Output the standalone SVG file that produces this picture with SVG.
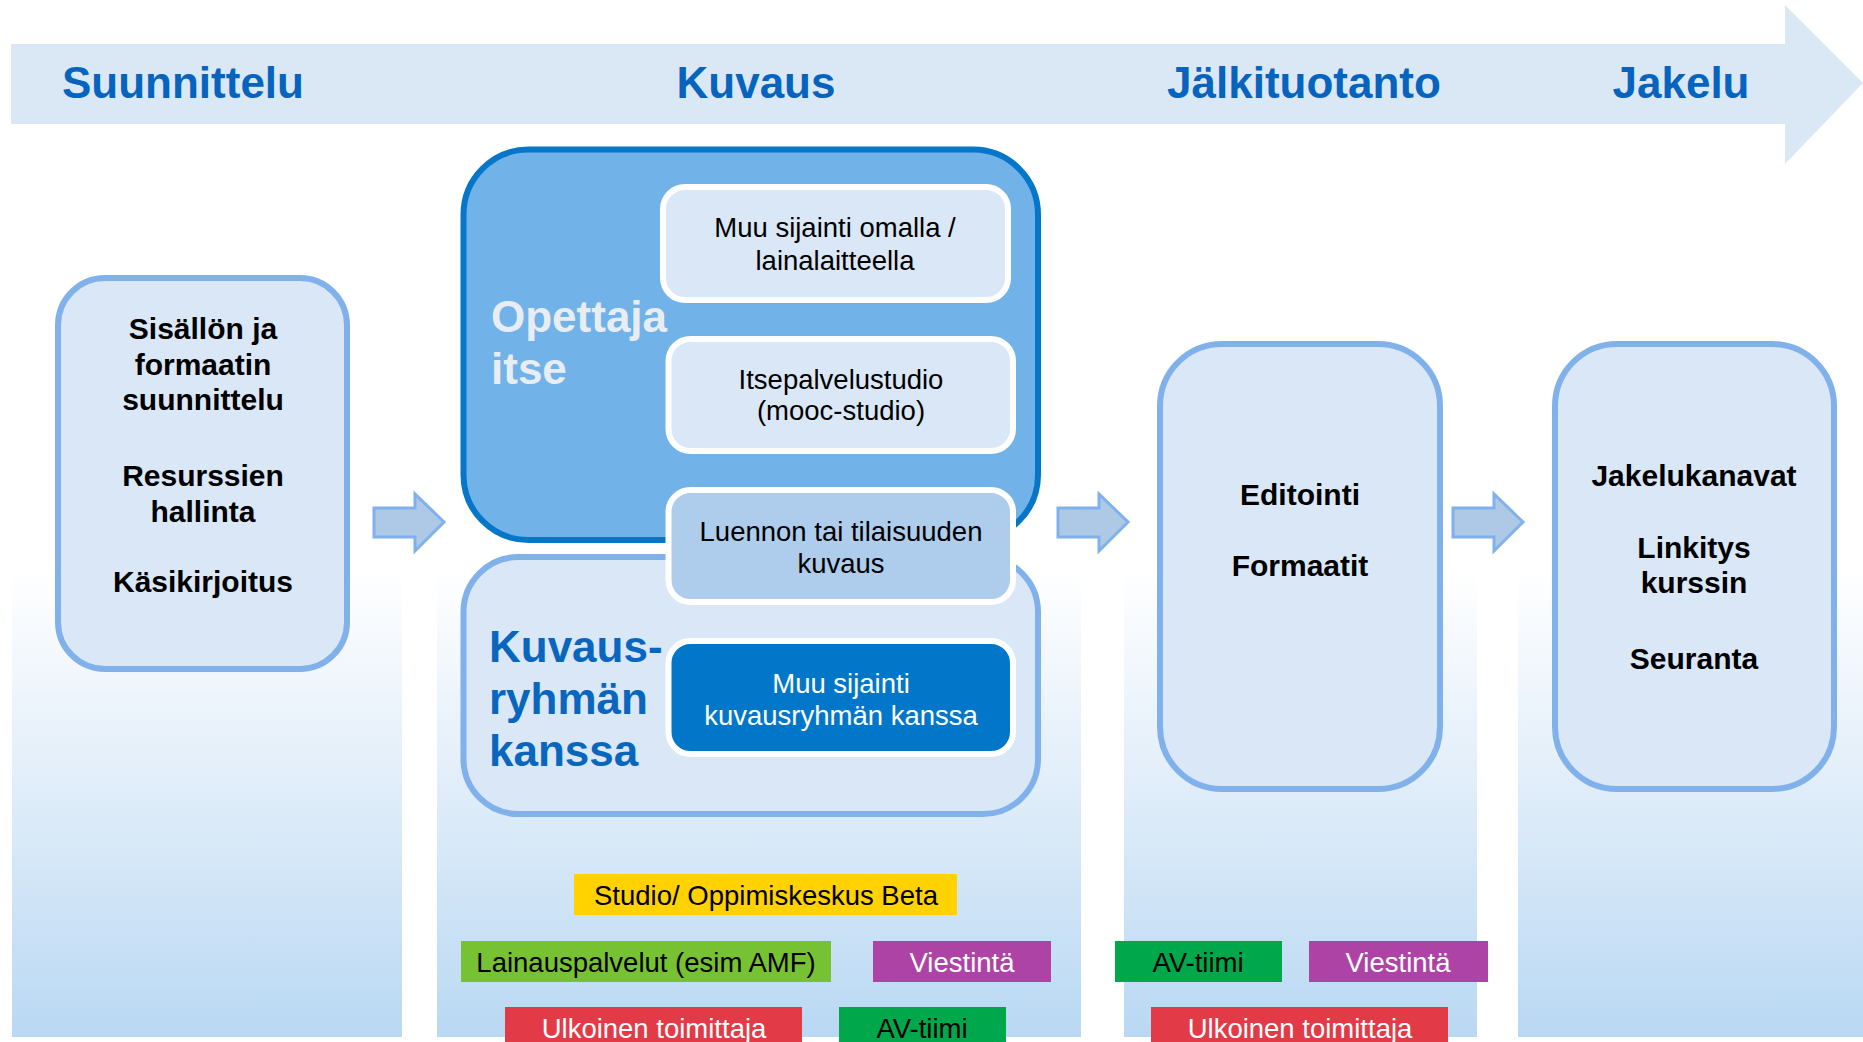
<svg xmlns="http://www.w3.org/2000/svg" width="1863" height="1042" viewBox="0 0 1863 1042">
  <style>
    .col { fill: url(#colGrad); }
    .head { font-family: "Liberation Sans", Arial, sans-serif; font-weight: bold; font-size: 44px; fill: #0664BF; text-anchor: middle; }
    .lbox { fill: #D9E7F6; stroke: #80B1EB; stroke-width: 6; }
    .btxt { font-family: "Liberation Sans", Arial, sans-serif; font-weight: bold; font-size: 30px; fill: #000; text-anchor: middle; }
    .ntxt { font-family: "Liberation Sans", Arial, sans-serif; font-size: 27.5px; fill: #000; text-anchor: middle; }
    .wtxt { fill: #FFFFFF; }
    .inner { stroke: #FFFFFF; stroke-width: 6; }
    .big { font-family: "Liberation Sans", Arial, sans-serif; font-weight: bold; font-size: 44px; }
    .conn { fill: #AEC9E6; stroke: #80B1EB; stroke-width: 3; stroke-linejoin: miter; }
  </style>
  <defs>
    <linearGradient id="colGrad" gradientUnits="userSpaceOnUse" x1="0" y1="570" x2="0" y2="1037">
      <stop offset="0" stop-color="#FFFFFF"/>
      <stop offset="0.5" stop-color="#DEECF9"/>
      <stop offset="1" stop-color="#B9D8F3"/>
    </linearGradient>
  </defs>
  <rect x="0" y="0" width="1863" height="1042" fill="#FFFFFF"/>

  <g id="columns">
    <rect class="col" x="12" y="400" width="390" height="637"/>
    <rect class="col" x="437" y="400" width="644" height="637"/>
    <rect class="col" x="1124" y="400" width="353" height="637"/>
    <rect class="col" x="1518" y="400" width="345" height="637"/>
  </g>

  <g id="phase-arrow">
    <polygon points="11,44 1785,44 1785,5 1863,83 1785,164 1785,124 11,124" fill="#DAE8F6"/>
    <text class="head" x="183" y="98">Suunnittelu</text>
    <text class="head" x="756" y="98">Kuvaus</text>
    <text class="head" x="1304" y="98">Jälkituotanto</text>
    <text class="head" x="1681" y="98">Jakelu</text>
  </g>

  <g id="node-suunnittelu">
    <rect class="lbox" x="58" y="278" width="289" height="391" rx="47" ry="47"/>
    <text class="btxt" x="203" y="339">Sisällön ja</text>
    <text class="btxt" x="203" y="375">formaatin</text>
    <text class="btxt" x="203" y="410">suunnittelu</text>
    <text class="btxt" x="203" y="486">Resurssien</text>
    <text class="btxt" x="203" y="522">hallinta</text>
    <text class="btxt" x="203" y="592">Käsikirjoitus</text>
  </g>

  <g id="node-kuvausryhma">
    <rect class="lbox" x="463.5" y="557" width="574.5" height="257" rx="55" ry="55"/>
    <text class="big" x="489" y="662" fill="#0866BF">Kuvaus-</text>
    <text class="big" x="489" y="714" fill="#0866BF">ryhmän</text>
    <text class="big" x="489" y="766" fill="#0866BF">kanssa</text>
  </g>

  <g id="node-opettaja">
    <rect x="463.5" y="149.5" width="574.5" height="390.5" rx="65" ry="65" fill="#71B2E8" stroke="#0677C8" stroke-width="6"/>
    <text class="big" x="491" y="332" fill="#E8EDF4">Opettaja</text>
    <text class="big" x="491" y="384" fill="#E8EDF4">itse</text>
  </g>

  <g id="node-muu-sijainti-omalla">
    <rect class="inner" x="663" y="187" width="345" height="113" rx="22" ry="22" fill="#D9E7F6"/>
    <text class="ntxt" x="835" y="237">Muu sijainti omalla /</text>
    <text class="ntxt" x="835" y="270">lainalaitteella</text>
  </g>

  <g id="node-itsepalvelustudio">
    <rect class="inner" x="668.5" y="339" width="344.5" height="112" rx="22" ry="22" fill="#D9E7F6"/>
    <text class="ntxt" x="841" y="389">Itsepalvelustudio</text>
    <text class="ntxt" x="841" y="420">(mooc-studio)</text>
  </g>

  <g id="node-luennon-kuvaus">
    <rect class="inner" x="668.5" y="490" width="344.5" height="112" rx="22" ry="22" fill="#AECCEB"/>
    <text class="ntxt" x="841" y="541">Luennon tai tilaisuuden</text>
    <text class="ntxt" x="841" y="573">kuvaus</text>
  </g>

  <g id="node-muu-sijainti-kuvausryhma">
    <rect class="inner" x="668.5" y="641" width="344.5" height="113" rx="22" ry="22" fill="#0277C9"/>
    <text class="ntxt wtxt" x="841" y="693">Muu sijainti</text>
    <text class="ntxt wtxt" x="841" y="725">kuvausryhmän kanssa</text>
  </g>

  <g id="node-jalkituotanto">
    <rect class="lbox" x="1160" y="344" width="280" height="445" rx="62" ry="62"/>
    <text class="btxt" x="1300" y="505">Editointi</text>
    <text class="btxt" x="1300" y="576">Formaatit</text>
  </g>

  <g id="node-jakelu">
    <rect class="lbox" x="1555" y="344" width="279" height="445" rx="62" ry="62"/>
    <text class="btxt" x="1694" y="486">Jakelukanavat</text>
    <text class="btxt" x="1694" y="558">Linkitys</text>
    <text class="btxt" x="1694" y="593">kurssin</text>
    <text class="btxt" x="1694" y="669">Seuranta</text>
  </g>

  <g id="connectors">
    <polygon class="conn" points="374,508 415,508 415,494 444,522 415,551 415,537 374,537"/>
    <polygon class="conn" points="1058,508 1099,508 1099,494 1128,522 1099,551 1099,537 1058,537"/>
    <polygon class="conn" points="1453,508 1494,508 1494,494 1523,522 1494,551 1494,537 1453,537"/>
  </g>

  <g id="tag-studio">
    <rect x="574" y="874" width="383" height="41" fill="#FFD200"/>
    <text class="ntxt" x="766" y="905">Studio/ Oppimiskeskus Beta</text>
  </g>
  <g id="tag-lainauspalvelut">
    <rect x="461" y="941" width="370" height="41" fill="#77C232"/>
    <text class="ntxt" x="646" y="972">Lainauspalvelut (esim AMF)</text>
  </g>
  <g id="tag-viestinta-1">
    <rect x="873" y="941" width="178" height="41" fill="#AE43A6"/>
    <text class="ntxt wtxt" x="962" y="972">Viestintä</text>
  </g>
  <g id="tag-ulkoinen-1">
    <rect x="505" y="1007" width="297" height="40" fill="#E23A47"/>
    <text class="ntxt wtxt" x="654" y="1038">Ulkoinen toimittaja</text>
  </g>
  <g id="tag-avtiimi-1">
    <rect x="839" y="1007" width="167" height="40" fill="#00A84B"/>
    <text class="ntxt" x="922" y="1038">AV-tiimi</text>
  </g>
  <g id="tag-avtiimi-2">
    <rect x="1115" y="941" width="167" height="41" fill="#00A84B"/>
    <text class="ntxt" x="1198" y="972">AV-tiimi</text>
  </g>
  <g id="tag-viestinta-2">
    <rect x="1309" y="941" width="179" height="41" fill="#AE43A6"/>
    <text class="ntxt wtxt" x="1398" y="972">Viestintä</text>
  </g>
  <g id="tag-ulkoinen-2">
    <rect x="1151" y="1007" width="297" height="40" fill="#E23A47"/>
    <text class="ntxt wtxt" x="1300" y="1038">Ulkoinen toimittaja</text>
  </g>
</svg>
